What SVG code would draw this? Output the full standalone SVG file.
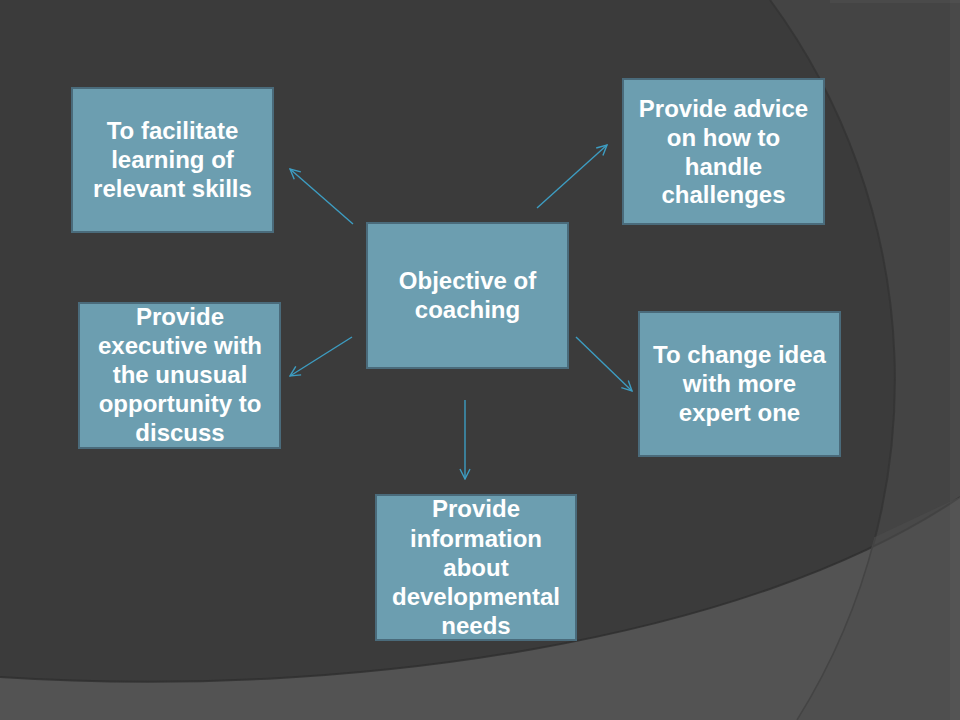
<svg xmlns="http://www.w3.org/2000/svg" width="960" height="720" viewBox="0 0 960 720">
  <defs>
    <style>
      .box { fill: #6c9eb0; stroke: #4a6b7b; stroke-width: 2; }
      .lbl { font-family: "Liberation Sans", Arial, sans-serif; font-weight: bold; font-size: 24px; fill: #ffffff; text-anchor: middle; }
      .conn { stroke: #3d9dc2; stroke-width: 1.4; fill: none; marker-end: url(#arr); }
    </style>
    <marker id="arr" viewBox="0 0 12 12" refX="11" refY="6" markerWidth="12" markerHeight="12" markerUnits="userSpaceOnUse" orient="auto">
      <path d="M1,1 L11,6 L1,11" fill="none" stroke="#3d9dc2" stroke-width="1.4"/>
    </marker>
  </defs>

  <g id="background">
    <rect x="0" y="0" width="960" height="720" fill="#3b3b3b"/>
    <path d="M770,0 A640,640 0 0 1 797,720 L960,720 L960,0 Z" fill="#444444"/>
    <path d="M770,0 A640,640 0 0 1 797,720" fill="none" stroke="#333333" stroke-width="2" opacity="0.8"/>
    <path d="M0,677 C350,700 750,640 960,497 L960,720 L0,720 Z" fill="#535353"/>
    <path d="M0,677 C350,700 750,640 960,497" fill="none" stroke="#2e2e2e" stroke-width="2" opacity="0.8"/>
    <path d="M875,537 A640,640 0 0 1 797,720 L960,720 L960,497 Z" fill="#4c4c4c" opacity="0.6"/>
    <path d="M875,537 A640,640 0 0 1 797,720" fill="none" stroke="#444444" stroke-width="1.5"/>
    <line x1="830" y1="1.5" x2="960" y2="1.5" stroke="#4a4a4a" stroke-width="3"/>
    <rect x="950" y="0" width="10" height="720" fill="#ffffff" opacity="0.03"/>
  </g>

  <g id="connectors">
    <line class="conn" x1="353" y1="224" x2="290" y2="169"/>
    <line class="conn" x1="537" y1="208" x2="607" y2="145"/>
    <line class="conn" x1="352" y1="337" x2="290" y2="376"/>
    <line class="conn" x1="576" y1="337" x2="632" y2="391"/>
    <line class="conn" x1="465" y1="400" x2="465" y2="479"/>
  </g>

  <g id="node-center">
    <rect class="box" x="367" y="223" width="201" height="145"/>
    <text class="lbl" x="467.5" y="289">Objective of</text>
    <text class="lbl" x="467.5" y="318">coaching</text>
  </g>

  <g id="node-facilitate">
    <rect class="box" x="72" y="88" width="201" height="144"/>
    <text class="lbl" x="172.5" y="139">To facilitate</text>
    <text class="lbl" x="172.5" y="168">learning of</text>
    <text class="lbl" x="172.5" y="197">relevant skills</text>
  </g>

  <g id="node-advice">
    <rect class="box" x="623" y="79" width="201" height="145"/>
    <text class="lbl" x="723.5" y="117">Provide advice</text>
    <text class="lbl" x="723.5" y="146">on how to</text>
    <text class="lbl" x="723.5" y="175">handle</text>
    <text class="lbl" x="723.5" y="203">challenges</text>
  </g>

  <g id="node-executive">
    <rect class="box" x="79" y="303" width="201" height="145"/>
    <text class="lbl" x="180" y="325">Provide</text>
    <text class="lbl" x="180" y="354">executive with</text>
    <text class="lbl" x="180" y="383">the unusual</text>
    <text class="lbl" x="180" y="412">opportunity to</text>
    <text class="lbl" x="180" y="441">discuss</text>
  </g>

  <g id="node-change">
    <rect class="box" x="639" y="312" width="201" height="144"/>
    <text class="lbl" x="739.5" y="363">To change idea</text>
    <text class="lbl" x="739.5" y="392">with more</text>
    <text class="lbl" x="739.5" y="421">expert one</text>
  </g>

  <g id="node-information">
    <rect class="box" x="376" y="495" width="200" height="145"/>
    <text class="lbl" x="476" y="517">Provide</text>
    <text class="lbl" x="476" y="547">information</text>
    <text class="lbl" x="476" y="576">about</text>
    <text class="lbl" x="476" y="605">developmental</text>
    <text class="lbl" x="476" y="634">needs</text>
  </g>
</svg>
